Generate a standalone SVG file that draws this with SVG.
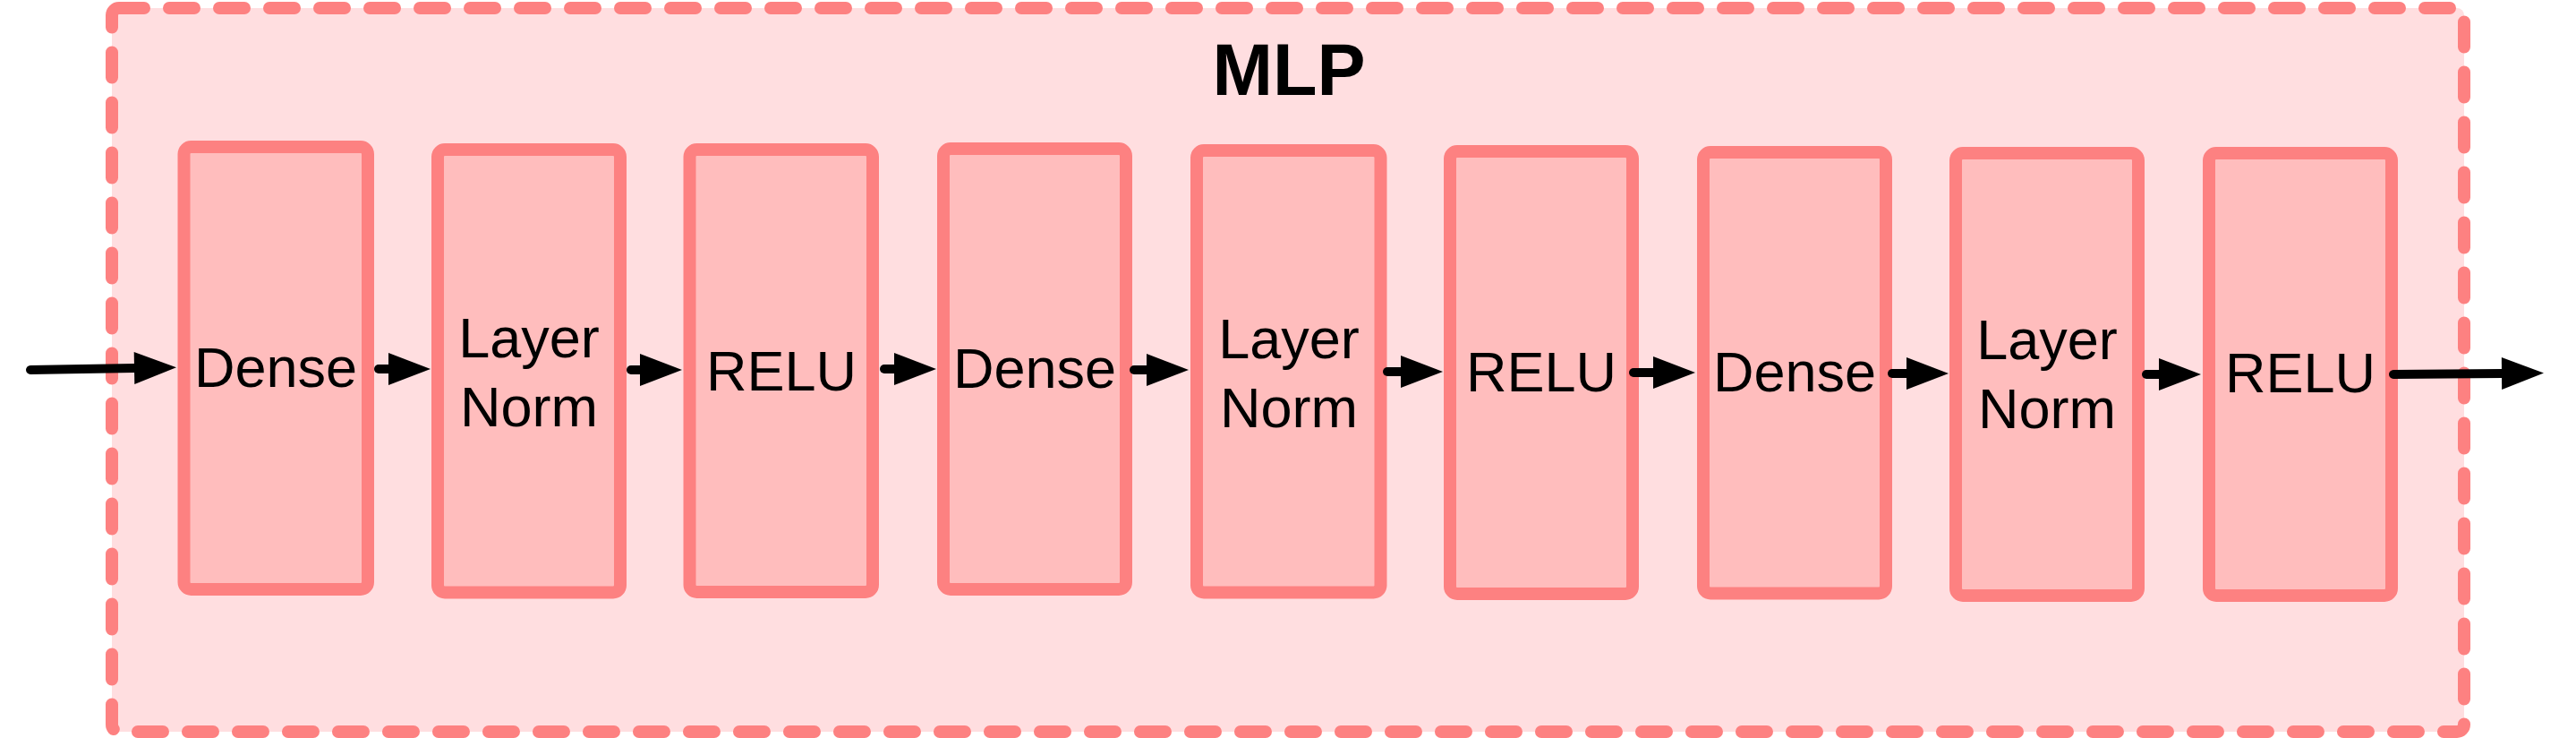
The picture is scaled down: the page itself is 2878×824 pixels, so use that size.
<svg xmlns="http://www.w3.org/2000/svg" width="2878" height="824" viewBox="0 0 2878 824">
<style>
.frame{fill:#FFDEE0;stroke:#FD8181;stroke-width:14px;stroke-linecap:round;stroke-linejoin:round}
.box{fill:#FFBDBD;stroke:#FD8181;stroke-width:14px}
.lbl{font-family:"Liberation Sans",Arial,Helvetica,sans-serif;font-size:63px;fill:#000;text-anchor:middle}
.title{font-family:"Liberation Sans",Arial,Helvetica,sans-serif;font-size:81px;font-weight:bold;fill:#000;text-anchor:middle}
.edge{fill:none;stroke:#000;stroke-width:10px;stroke-linecap:round;marker-end:url(#head)}
</style>
<defs>
<marker id="head" markerUnits="userSpaceOnUse" markerWidth="48" markerHeight="36" viewBox="0 0 48 36" refX="0" refY="18" orient="auto" overflow="visible">
<path d="M0,0 L47,18 L0,36 Z" fill="#000"/>
</marker>
</defs>
<g id="mlp">
<path class="frame" stroke-dasharray="28 28" d="M133,9 L2745,9 A8,8 0 0 1 2753,17 L2753,809 A8,8 0 0 1 2745,817 L133,817 A8,8 0 0 1 125,809 L125,17 A8,8 0 0 1 133,9 Z"/>
<text class="title" x="1440" y="106">MLP</text>
</g>
<g id="dense1"><rect class="box" x="205.5" y="164" width="205.5" height="494" rx="8"/><text class="lbl" x="308" y="432">Dense</text></g>
<g id="layernorm1"><rect class="box" x="489" y="167" width="204" height="494.5" rx="8"/><text class="lbl" x="591" y="399">Layer</text><text class="lbl" x="591" y="476">Norm</text></g>
<g id="relu1"><rect class="box" x="770.5" y="167" width="204.5" height="494" rx="8"/><text class="lbl" x="873" y="436">RELU</text></g>
<g id="dense2"><rect class="box" x="1054" y="166" width="204" height="492" rx="8"/><text class="lbl" x="1156" y="433">Dense</text></g>
<g id="layernorm2"><rect class="box" x="1337" y="168" width="205.5" height="493.5" rx="8"/><text class="lbl" x="1440" y="399.5">Layer</text><text class="lbl" x="1440" y="476.5">Norm</text></g>
<g id="relu2"><rect class="box" x="1620" y="169" width="204" height="494" rx="8"/><text class="lbl" x="1722" y="437">RELU</text></g>
<g id="dense3"><rect class="box" x="1903" y="170" width="204" height="492.5" rx="8"/><text class="lbl" x="2005" y="437">Dense</text></g>
<g id="layernorm3"><rect class="box" x="2185" y="171" width="204" height="494" rx="8"/><text class="lbl" x="2287" y="401">Layer</text><text class="lbl" x="2287" y="478">Norm</text></g>
<g id="relu3"><rect class="box" x="2468" y="171" width="204" height="494" rx="8"/><text class="lbl" x="2570" y="438">RELU</text></g>
<g id="connectors">
<path class="edge" d="M34,413 L150,411"/>
<path class="edge" d="M423,412 L434,412"/>
<path class="edge" d="M705,413 L715,413"/>
<path class="edge" d="M988,412 L999,412"/>
<path class="edge" d="M1267,413 L1281,413"/>
<path class="edge" d="M1550,415 L1565,415"/>
<path class="edge" d="M1825,416 L1847,416"/>
<path class="edge" d="M2114,417 L2130,417"/>
<path class="edge" d="M2398,418 L2412,418"/>
<path class="edge" d="M2674,418 L2795,417"/>
</g>
</svg>
